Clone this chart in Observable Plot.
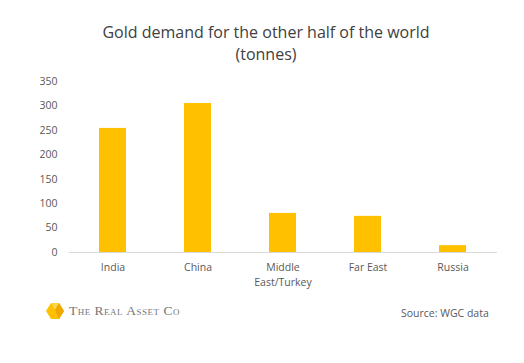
<!DOCTYPE html>
<html><head><meta charset="utf-8">
<script src="https://cdn.jsdelivr.net/npm/d3@7"></script>
<script src="https://cdn.jsdelivr.net/npm/@observablehq/plot@0.6"></script>
<style>
body{margin:0;background:#fff;font-family:"Open Sans",sans-serif;}
#wrap{position:relative;width:524px;height:363px;overflow:hidden;}
#title{position:absolute;left:0;top:21px;width:532px;text-align:center;font-size:16px;line-height:22px;color:#404040;}
#chart{position:absolute;left:0;top:70px;}
#logo{position:absolute;left:46px;top:303px;display:flex;align-items:center;}
#logotext{font-family:"Liberation Serif",serif;color:#777;font-size:13.5px;font-variant:small-caps;letter-spacing:0.5px;margin-left:5px;}
#source{position:absolute;left:401px;top:306px;font-size:10.5px;color:#595959;}
</style></head>
<body><div id="wrap">
<div id="title">Gold demand for the other half of the world<br>(tonnes)</div>
<div id="chart"></div>
<div id="logo"><svg width="18" height="16" viewBox="0 0 18 16"><polygon points="5,0 13,0 18,8 13,16 5,16 0,8" fill="#FFC000"/><polygon points="5,0 13,0 9,7" fill="#FFD54F"/><polygon points="9,7 13,16 18,8 13,0" fill="#F0A800"/></svg><span id="logotext">The Real Asset Co</span></div>
<div id="source">Source: WGC data</div>
</div>
<script>
const regions = ["India", "China", "Middle\nEast/Turkey", "Far East", "Russia"];
const demand = [254, 305, 80, 74, 14];
const yTicks = [0, 50, 100, 150, 200, 250, 300, 350];
const data = regions.map((r, i) => ({region: r, value: demand[i]}));
const chart = Plot.plot({
  width: 524, height: 230,
  marginLeft: 69, marginRight: 27, marginTop: 11, marginBottom: 48,
  style: {fontFamily: "Open Sans, sans-serif", fontSize: "10.5px", color: "#595959", background: "transparent"},
  x: {domain: regions, paddingInner: 0.68, paddingOuter: 0.34, label: null},
  y: {domain: [0, 350], label: null},
  marks: [
    Plot.axisY({ticks: yTicks, tickSize: 0, tickPadding: 12, fontSize: 10.5}),
    Plot.axisX({tickSize: 0, tickPadding: 8, lineHeight: 1.4, fontSize: 10.5}),
    Plot.barY(data, {x: "region", y: "value", fill: "#FFC000"}),
    Plot.ruleY([0], {stroke: "#d9d9d9", strokeWidth: 1})
  ]
});
document.getElementById("chart").appendChild(chart);
</script>
</body></html>
